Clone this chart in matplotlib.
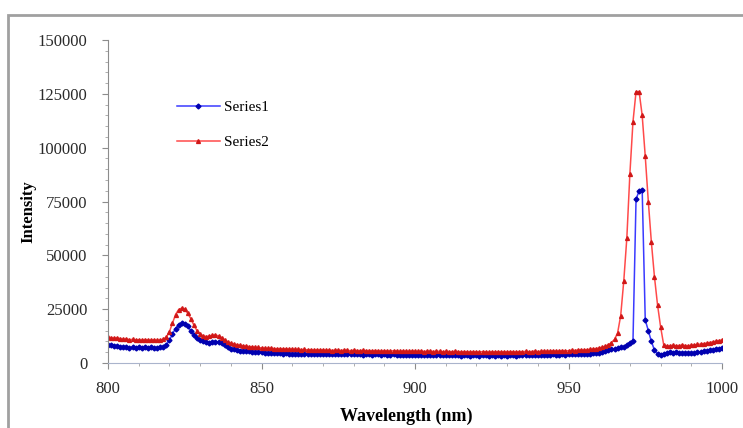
import numpy as np
import matplotlib
matplotlib.use("Agg")
import matplotlib.pyplot as plt
from matplotlib.patches import Rectangle
from matplotlib.ticker import MultipleLocator

# =========================
# 1. DATA (1 nm steps)
# =========================
wavelength = np.arange(800, 1001, 1)

series1 = [
    8500, 8300, 8000, 7800, 7600, 7400, 7200, 7000, 7300, 7100,
    7200, 7000, 7300, 7100, 7200, 7000, 7100, 7300, 7600, 8500,
    10500, 13500, 16000, 17800, 18500, 18200, 17000, 15000, 13000, 11500,
    10500, 10000, 9700, 9500, 9600, 9900, 9800, 9200, 8200, 7200,
    6600, 6300, 6000, 5800, 5700, 5500, 5400, 5200, 5100, 5000,
    4900, 4800, 4700, 4800, 4600, 4500, 4600, 4400, 4500, 4300,
    4400, 4300, 4200, 4400, 4300, 4200, 4100, 4300, 4200, 4100,
    4200, 4100, 4300, 4000, 4200, 4100, 4000, 4200, 4300, 4100,
    4200, 4000, 4100, 3900, 4100, 4000, 3900, 4100, 4000, 3800,
    4000, 3900, 3800, 4000, 3900, 3700, 3900, 3800, 3700, 3900,
    3800, 3700, 3900, 3600, 3800, 3700, 3600, 3800, 3700, 3500,
    3700, 3600, 3500, 3700, 3600, 3400, 3600, 3500, 3400, 3600,
    3500, 3400, 3600, 3500, 3300, 3500, 3400, 3600, 3400, 3500,
    3400, 3600, 3500, 3400, 3600, 3500, 3700, 3500, 3600, 3800,
    3600, 3700, 3900, 3700, 3800, 4000, 3800, 3900, 4100, 3900,
    4000, 4200, 4000, 4100, 4300, 4200, 4400, 4300, 4500, 4600,
    4800, 5000, 5400, 6000, 6300, 6500, 6800, 7200, 7400, 8500,
    9500, 10000, 76000, 80000, 80500, 20000, 15000, 10000, 6000, 4200,
    3800, 4200, 4600, 5000, 4800, 4900, 4700, 4800, 4600, 4500,
    4600, 4700, 4900, 5200, 5500, 5700, 5900, 6200, 6400, 6600,
    6800,
]

series2 = [
    12000, 11800, 11500, 11700, 11300, 11000, 11200, 10800, 11000, 10700,
    10800, 10600, 10900, 10700, 10600, 10800, 10500, 10700, 11000, 12000,
    14500, 18500, 22500, 24800, 25500, 25000, 23000, 20500, 17500, 15000,
    13500, 12500, 12300, 12500, 12800, 13000, 12600, 11800, 10800, 9800,
    9200, 8800, 8500, 8200, 8000, 7800, 7600, 7500, 7300, 7200,
    7000, 6900, 6800, 6900, 6700, 6600, 6700, 6500, 6600, 6400,
    6500, 6300, 6400, 6200, 6300, 6100, 6200, 6000, 6100, 6000,
    6100, 5900, 6000, 5800, 6000, 5900, 5800, 6000, 5900, 5700,
    5900, 5800, 5700, 5900, 5700, 5800, 5600, 5800, 5700, 5500,
    5700, 5600, 5500, 5700, 5600, 5400, 5600, 5500, 5400, 5600,
    5500, 5400, 5600, 5300, 5500, 5400, 5300, 5500, 5400, 5200,
    5400, 5300, 5200, 5400, 5300, 5100, 5300, 5200, 5100, 5300,
    5200, 5100, 5300, 5200, 5000, 5200, 5100, 5300, 5100, 5200,
    5100, 5300, 5200, 5100, 5300, 5200, 5400, 5200, 5300, 5500,
    5300, 5400, 5600, 5400, 5500, 5700, 5500, 5600, 5800, 5600,
    5700, 5900, 5800, 6000, 6100, 6000, 6200, 6300, 6500, 6700,
    7000, 7300, 7800, 8500, 9500, 11000, 14000, 22000, 38000, 58000,
    88000, 112000, 126000, 126000, 115000, 96000, 75000, 56000, 40000, 27000,
    16800, 8500, 7800, 8000, 8200, 8000, 8100, 8300, 8100, 8000,
    8200, 8400, 8600, 8800, 9000, 9200, 9500, 9800, 10100, 10400,
    10700,
]

series_names = ["Series1", "Series2"]

# =========================
# 2. FIGURE
# =========================
plt.rcParams["font.family"] = ["Liberation Serif", "DejaVu Serif"]

fig = plt.figure(figsize=(7.43, 4.28), dpi=100)
ax = fig.add_axes([108 / 743, 1 - 363 / 428, 614 / 743, 323 / 428])

# outer chart border (cut off at right / bottom like the screenshot)
fig.patches.append(Rectangle((8 / 743, -0.2), 1.2, 1.2 - 15 / 428,
                             transform=fig.transFigure, fill=False,
                             edgecolor="#a0a0a0", linewidth=2, zorder=0))

ax.plot(wavelength, series1, color="#3a3aff", linewidth=1.1,
        marker="D", markersize=2.5, markerfacecolor="#0000b0",
        markeredgecolor="#0000b0", label=series_names[0])
ax.plot(wavelength, series2, color="#ff4a4a", linewidth=1.1,
        marker="^", markersize=2.8, markerfacecolor="#d01818",
        markeredgecolor="#d01818", label=series_names[1])

# =========================
# 3. AXES STYLE
# =========================
ax.set_xlim(800, 1000)
ax.set_ylim(0, 150000)
ax.xaxis.set_major_locator(MultipleLocator(50))
ax.xaxis.set_minor_locator(MultipleLocator(10))
ax.yaxis.set_major_locator(MultipleLocator(25000))
ax.yaxis.set_minor_locator(MultipleLocator(5000))

for side in ["top", "right"]:
    ax.spines[side].set_visible(False)
ax.spines["left"].set_color("#8c8c8c")
ax.spines["bottom"].set_color("#aab4cc")

ax.tick_params(axis="both", which="major", length=4, color="#8c8c8c",
               labelsize=12, labelcolor="#2a2a2a")
ax.tick_params(axis="both", which="minor", length=2.5, color="#a0a0a0")
ax.tick_params(axis="y", which="major", pad=11)
ax.tick_params(axis="x", which="major", pad=9)

ax.set_xlabel("Wavelength (nm)", fontsize=13, fontweight="bold")
ax.set_ylabel("Intensity", fontsize=12, fontweight="bold")
ax.xaxis.set_label_coords(0.485, -0.138)
ax.yaxis.set_label_coords(-0.117, 0.47)

ax.legend(loc="upper left", bbox_to_anchor=(0.09, 0.855), frameon=False,
          numpoints=1, handlelength=2.8, labelspacing=1.4, fontsize=11,
          handletextpad=0.3)

fig.savefig("out.png", dpi=100)
